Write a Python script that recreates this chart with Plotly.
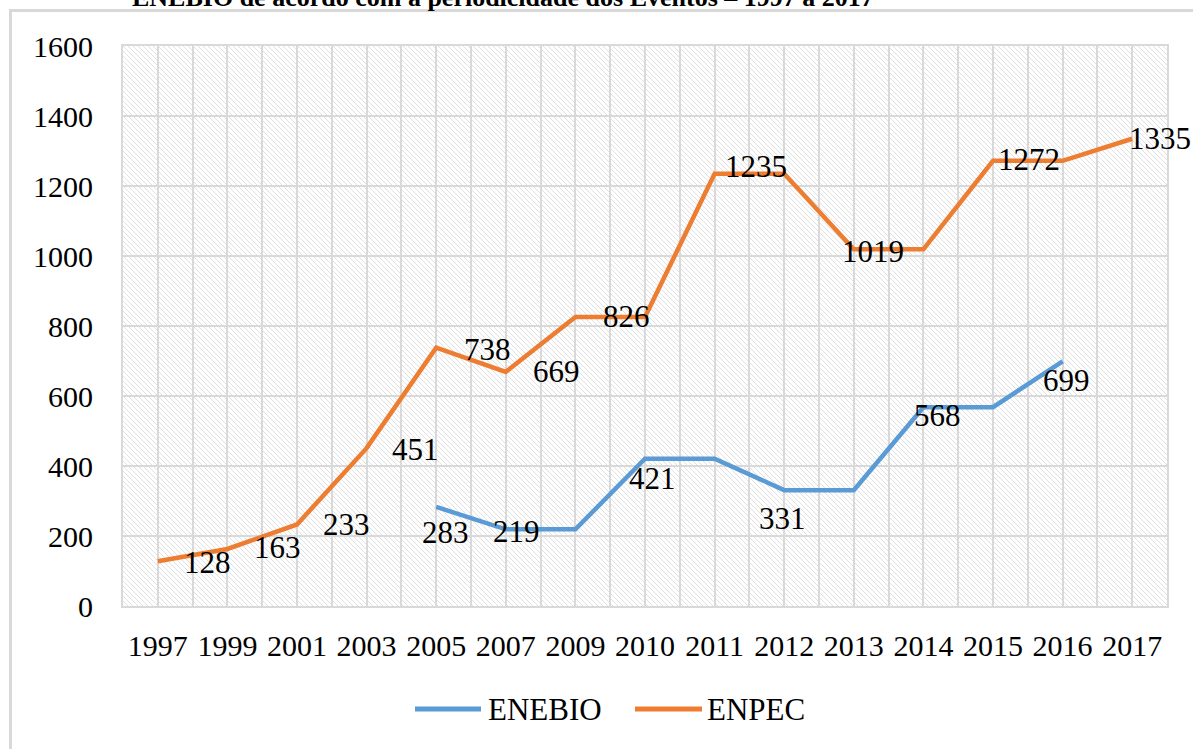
import base64
import plotly.graph_objects as go

# ---- data ----
years = ["1997", "1999", "2001", "2003", "2005", "2007", "2009", "2010",
         "2011", "2012", "2013", "2014", "2015", "2016", "2017"]
enpec = [128, 163, 233, 451, 738, 669, 826, 826, 1235, 1235, 1019, 1019, 1272, 1272, 1335]
enebio = [None, None, None, None, 283, 219, 219, 421, 421, 331, 331, 568, 568, 699, None]
series_names = ["ENEBIO", "ENPEC"]

# which points carry a value label (index into years)
enpec_label_idx = [0, 1, 2, 3, 4, 5, 6, 8, 10, 12, 14]
enebio_label_idx = [4, 5, 7, 9, 11, 13]

# label offsets in pixels (style, not data): (dx right, dy down)
enpec_label_off = [(50, 1), (50, -1), (49, 0), (49, 1), (51, 2), (51, 0), (51, 0),
                   (41, -7), (19, 2), (36, -1), (28, 0)]
enebio_label_off = [(9, 26), (11, 2), (7, 20), (-2, 28), (14, 8), (4, 19)]

title_text = "ENEBIO de acordo com a periodicidade dos Eventos \u2013 1997 a 2017"

# ---- style ----
BLUE = "#5B9BD5"
ORANGE = "#ED7D31"
GRID = "#d9d9d9"
HATCH = "#e0e0e0"
FONT = "Liberation Serif, Times New Roman, serif"

W, H = 1193, 749
ML, MR, MT, MB = 123, 26, 46, 143
PW, PH = W - ML - MR, H - MT - MB


def px_x(p):
    return (p - ML) / PW


def px_y(p):
    return (MT + PH - p) / PH


xpos = list(range(len(years)))

fig = go.Figure()
fig.add_trace(go.Scatter(x=xpos, y=enebio, mode="lines", name=series_names[0],
                         line=dict(color=BLUE, width=4.5), connectgaps=False,
                         showlegend=False))
fig.add_trace(go.Scatter(x=xpos, y=enpec, mode="lines", name=series_names[1],
                         line=dict(color=ORANGE, width=4.5), showlegend=False))

annotations = []
for idx, (dx, dy) in zip(enpec_label_idx, enpec_label_off):
    annotations.append(dict(x=xpos[idx], y=enpec[idx], text=str(enpec[idx]),
                            showarrow=False, xshift=dx, yshift=-dy,
                            font=dict(family=FONT, size=31, color="#000")))
for idx, (dx, dy) in zip(enebio_label_idx, enebio_label_off):
    annotations.append(dict(x=xpos[idx], y=enebio[idx], text=str(enebio[idx]),
                            showarrow=False, xshift=dx, yshift=-dy,
                            font=dict(family=FONT, size=31, color="#000")))

# partially visible title line at the very top
annotations.append(dict(xref="paper", yref="paper", x=px_x(130), y=px_y(-3),
                        xanchor="left", yanchor="middle",
                        text="<b>" + title_text + "</b>", showarrow=False,
                        font=dict(family=FONT, size=26, color="#000")))

# legend (Excel-style long line keys)
legend_items = [(series_names[0], BLUE, 415, 481, 486),
                (series_names[1], ORANGE, 635, 702, 705)]
shapes = [dict(type="rect", xref="paper", yref="paper",
               x0=px_x(10.5), x1=1.2, y0=-0.5, y1=px_y(10.5),
               line=dict(color=GRID, width=3), fillcolor="rgba(0,0,0,0)",
               layer="below")]
for name, col, lx0, lx1, tx in legend_items:
    shapes.append(dict(type="line", xref="paper", yref="paper",
                       x0=px_x(lx0), x1=px_x(lx1), y0=px_y(709), y1=px_y(709),
                       line=dict(color=col, width=5)))
    annotations.append(dict(xref="paper", yref="paper", x=px_x(tx), y=px_y(709),
                            xanchor="left", yanchor="middle", text=name,
                            showarrow=False,
                            font=dict(family=FONT, size=31, color="#000")))

# hatched plot background as an inline SVG image
svg = (f'<svg xmlns="http://www.w3.org/2000/svg" width="{PW}" height="{PH}">'
       '<defs><pattern id="p" width="5" height="5" patternUnits="userSpaceOnUse">'
       f'<path d="M-1,-1 L6,6 M-1,4 L1,6 M4,-1 L6,1" stroke="{HATCH}" stroke-width="1"/>'
       '</pattern></defs>'
       f'<rect width="{PW}" height="{PH}" fill="url(#p)"/></svg>')
svg_uri = "data:image/svg+xml;base64," + base64.b64encode(svg.encode()).decode()

fig.update_layout(
    width=W, height=H,
    margin=dict(l=ML, r=MR, t=MT, b=MB, autoexpand=False),
    paper_bgcolor="white", plot_bgcolor="white",
    font=dict(family=FONT, size=30, color="#000"),
    showlegend=False,
    annotations=annotations,
    images=[dict(source=svg_uri, xref="paper", yref="paper", x=0, y=1,
                 sizex=1, sizey=1, xanchor="left", yanchor="top",
                 sizing="stretch", layer="below")],
    shapes=shapes,
)

fig.update_xaxes(range=[-0.5, len(years) - 0.5], tickmode="array",
                 tickvals=xpos, ticktext=years, showgrid=True, gridcolor=GRID,
                 gridwidth=2, ticks="outside", ticklen=12,
                 tickcolor="rgba(0,0,0,0)", zeroline=False,
                 showline=True, linecolor=GRID, linewidth=2, mirror=True,
                 minor=dict(tickmode="linear", tick0=0.5, dtick=1, showgrid=True,
                            gridcolor=GRID, gridwidth=2),
                 tickfont=dict(family=FONT, size=30))
fig.update_yaxes(range=[0, 1600], dtick=200, showgrid=True, gridcolor=GRID,
                 gridwidth=2, ticks="outside", ticklen=22,
                 tickcolor="rgba(0,0,0,0)", zeroline=False,
                 showline=True, linecolor=GRID, linewidth=2, mirror=True,
                 tickfont=dict(family=FONT, size=30))

fig.write_html("out.html", config={"displayModeBar": False},
               post_script="document.body.style.margin='0';document.body.style.overflow='hidden';")
